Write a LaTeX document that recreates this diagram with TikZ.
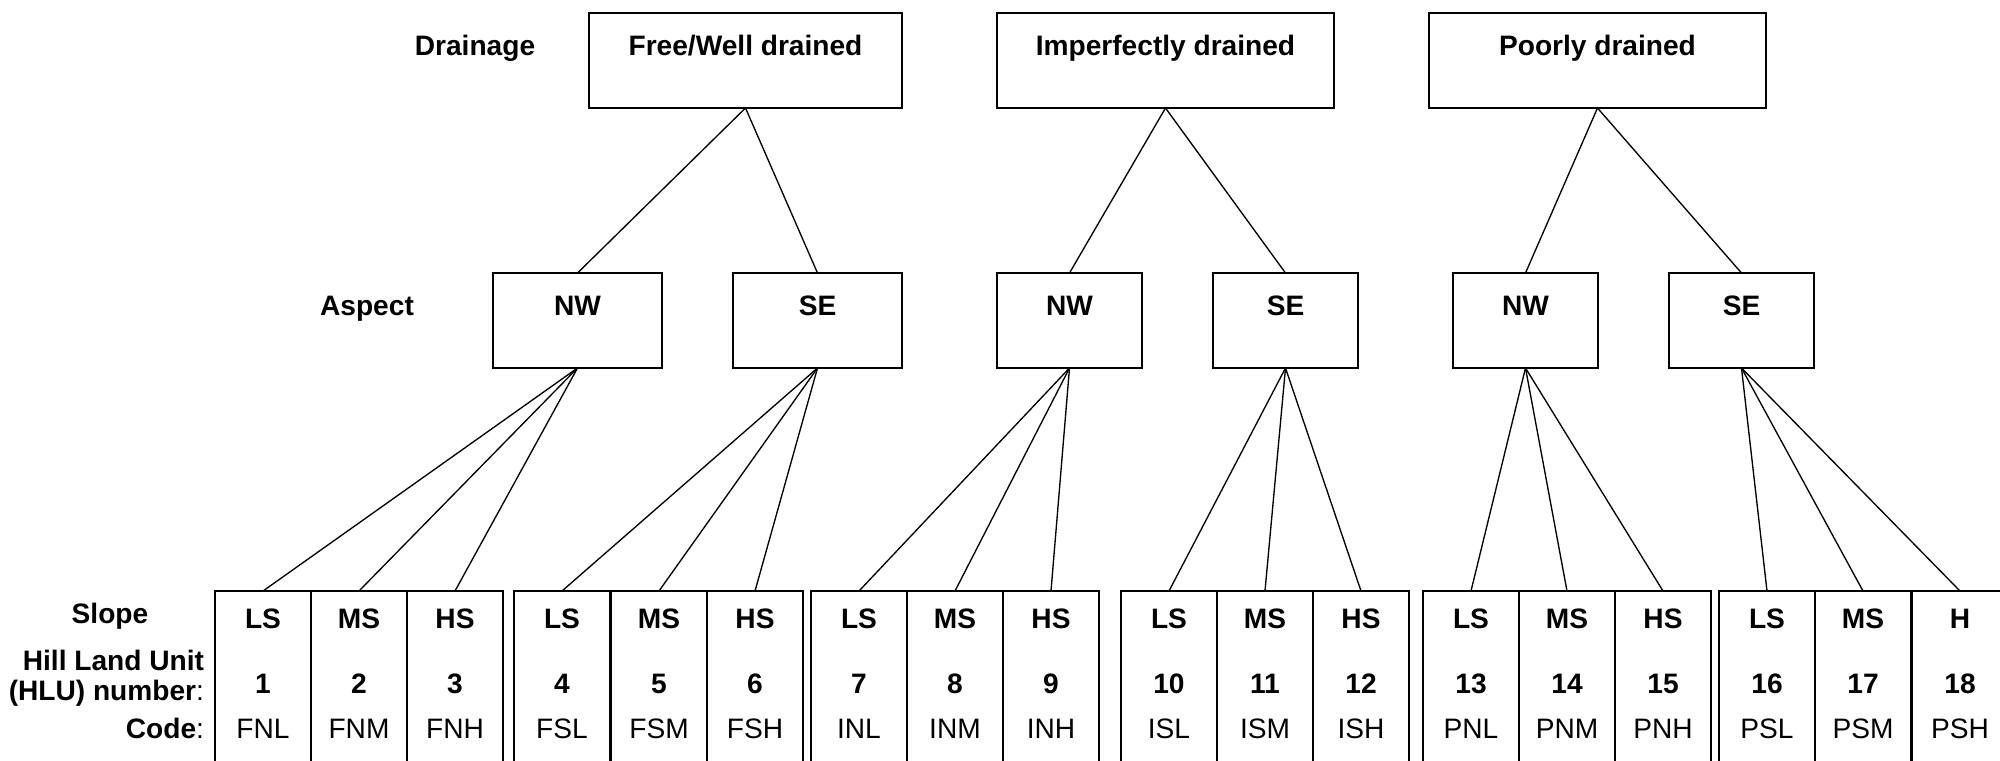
\documentclass[tikz,border=0pt]{standalone}
\usepackage{fontspec}
\setmainfont{Liberation Sans}
\begin{document}
\fontsize{8}{9.6}\selectfont
\begin{tikzpicture}[x=0.1mm,y=-0.1mm,
    every node/.style={inner sep=0pt,outer sep=0pt},
    box/.style={draw,line width=0.57pt,anchor=north,text height=4.2mm,text depth=5.3mm,font=\bfseries},
    cell/.style={draw,line width=0.57pt,anchor=north west,minimum width=9.6mm,minimum height=17.5mm},
    link/.style={line width=0.38pt}]

      \useasboundingbox (0,0) rectangle (2000,760);
      \clip (0,0) rectangle (2000,760);

      % row labels
      \node[anchor=base,font=\bfseries] (drainage) at (475,55) {Drainage};
      \node[anchor=base,font=\bfseries] (aspect) at (367,315) {Aspect};
      \node[anchor=base,font=\bfseries] (slope) at (110,623) {Slope};
      \node[anchor=base east,font=\bfseries] (hlu) at (204,670) {Hill Land Unit};
      \node[anchor=base east] (hlunum) at (204,700) {\textbf{(HLU) number}:};
      \node[anchor=base east] (code) at (204,738) {\textbf{Code}:};

      % drainage
      \node[box,minimum width=31.3mm] (fw) at (745.5,13) {Free/Well drained};
      \node[box,minimum width=33.7mm] (im) at (1165.5,13) {Imperfectly drained};
      \node[box,minimum width=33.7mm] (pd) at (1597.5,13) {Poorly drained};

      % aspect
      \node[box,minimum width=16.9mm] (nw1) at (577.5,273) {NW};
      \node[box,minimum width=16.9mm] (se1) at (817.5,273) {SE};
      \node[box,minimum width=14.5mm] (nw2) at (1069.5,273) {NW};
      \node[box,minimum width=14.5mm] (se2) at (1285.5,273) {SE};
      \node[box,minimum width=14.5mm] (nw3) at (1525.5,273) {NW};
      \node[box,minimum width=14.5mm] (se3) at (1741.5,273) {SE};

      % slope cells
      \foreach \n/\x/\s/\c in {1/215/LS/FNL,2/311/MS/FNM,3/407/HS/FNH,
                               4/514/LS/FSL,5/611/MS/FSM,6/707/HS/FSH,
                               7/811/LS/INL,8/907/MS/INM,9/1003/HS/INH,
                               10/1121/LS/ISL,11/1217/MS/ISM,12/1313/HS/ISH,
                               13/1423/LS/PNL,14/1519/MS/PNM,15/1615/HS/PNH,
                               16/1719/LS/PSL,17/1815/MS/PSM,18/1912/H/PSH}
      {
      \node[cell] (c\n) at (\x,591) {};
      \node[anchor=base,font=\bfseries] (s\n) at (\x+48,628) {\s};
      \node[anchor=base,font=\bfseries] (n\n) at (\x+48,693) {\n};
      \node[anchor=base] (k\n) at (\x+48,738) {\c};
      }

      \foreach \a/\b in {fw/nw1,fw/se1,im/nw2,im/se2,pd/nw3,pd/se3}
      \draw[link] (\a.south) -- (\b.north);

      \foreach \a/\b in {nw1/1,nw1/2,nw1/3,se1/4,se1/5,se1/6,nw2/7,nw2/8,nw2/9,
                         se2/10,se2/11,se2/12,nw3/13,nw3/14,nw3/15,se3/16,se3/17,se3/18}
      \draw[link] (\a.south) -- (c\b.north);

    \end{tikzpicture}
\end{document}
